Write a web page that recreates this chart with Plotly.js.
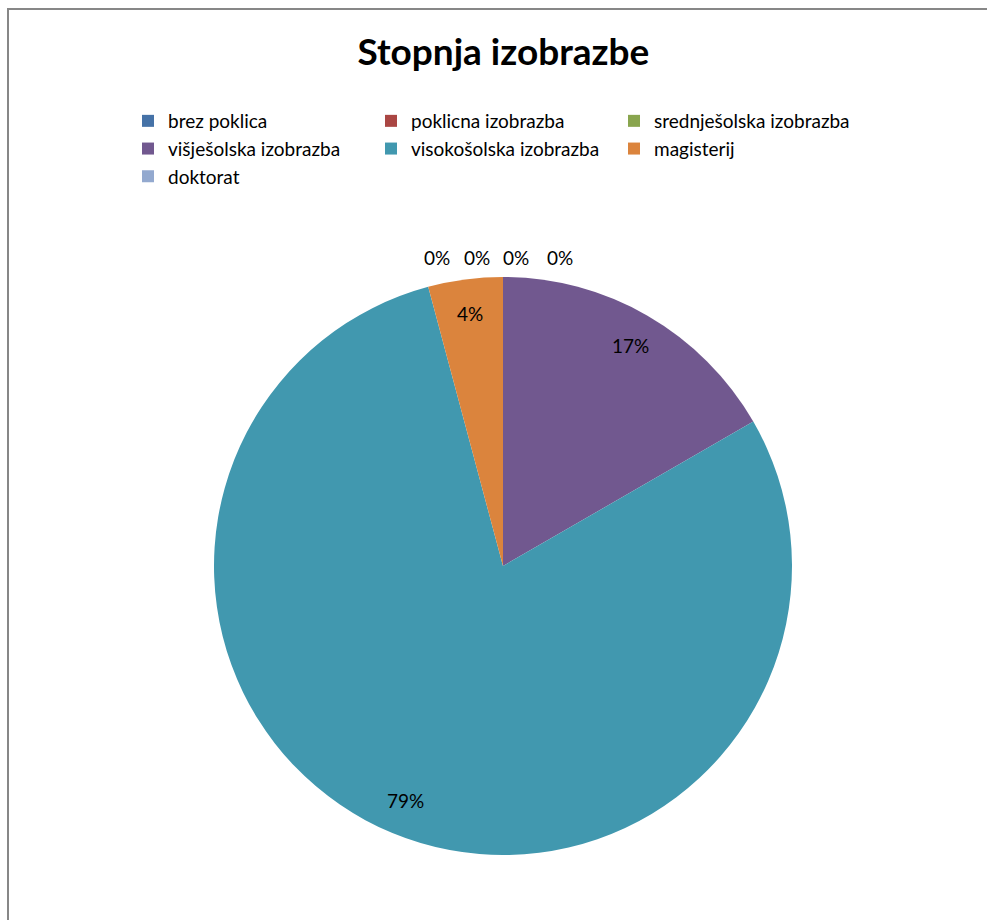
<!DOCTYPE html>
<html><head><meta charset="utf-8">
<script src="https://cdn.plot.ly/plotly-3.0.1.min.js"></script>
<style>
html,body{margin:0;padding:0;background:#fff;overflow:hidden;}
#chart{position:absolute;left:0;top:0;width:987px;height:920px;}
#frame{position:absolute;left:7px;top:8px;width:2000px;height:2000px;border-left:2px solid #878787;border-top:2px solid #878787;pointer-events:none;}
</style>
</head><body>
<div id="chart"></div><div id="frame"></div>
<script>
const chartTitle = 'Stopnja izobrazbe';
const categories = ['brez poklica', 'poklicna izobrazba', 'srednješolska izobrazba', 'višješolska izobrazba', 'visokošolska izobrazba', 'magisterij', 'doktorat'];
const counts = [0, 0, 0, 4, 19, 1, 0];
const sliceColors = ['#4572A7', '#AA4643', '#89A54E', '#71588F', '#4198AF', '#DB843D', '#93A9CF'];

const W = 987, H = 920;
const ML = 0, MR = 100, MT = 0, MB = 0;
const PW = W - ML - MR, PH = H - MT - MB;
const FONT = 'Lato, "Open Sans", sans-serif';
const toPX = px => (px - ML) / PW;
const toPY = py => 1 - (py - MT) / PH;
// pie geometry (pixels)
const cxPx = 503, cyPx = 566, rPx = 289;
const domX = [toPX(cxPx - rPx), toPX(cxPx + rPx)];
const domY = [toPY(cyPx + rPx), toPY(cyPx - rPx)];

const total = counts.reduce((a, b) => a + b, 0);
const annotations = [];
let cum = 0;
const firstNZ = counts.findIndex(v => v > 0);
let rightK = 0;
counts.forEach((v, i) => {
  const pct = Math.round(v / total * 100) + '%';
  let px, py;
  if (v > 0) {
    const mid = (cum + v / 2) / total * 2 * Math.PI;
    const rr = rPx * 0.88;
    px = cxPx + rr * Math.sin(mid);
    py = cyPx - rr * Math.cos(mid);
  } else {
    py = cyPx - rPx - 20;
    if (i < firstNZ) {
      px = cxPx + 13 - 39.5 * (firstNZ - 1 - i);
    } else {
      px = cxPx + 57 + 39.5 * rightK; rightK++;
    }
  }
  cum += v;
  annotations.push({
    text: pct, xref: 'paper', yref: 'paper', x: toPX(px), y: toPY(py),
    xanchor: 'center', yanchor: 'middle', showarrow: false,
    font: {family: FONT, size: 19, color: '#000000'}
  });
});

const trace = {
  type: 'pie',
  labels: categories,
  values: counts,
  sort: false,
  direction: 'clockwise',
  rotation: 0,
  textinfo: 'none',
  hoverinfo: 'label+percent',
  marker: {colors: sliceColors, line: {width: 0}},
  domain: {x: domX, y: domY},
  showlegend: true
};

const layout = {
  width: W, height: H,
  margin: {l: ML, r: MR, t: MT, b: MB, autoexpand: false},
  paper_bgcolor: '#ffffff',
  plot_bgcolor: '#ffffff',
  title: {
    text: '<b>' + chartTitle + '</b>',
    x: 0.51, xanchor: 'center', xref: 'container',
    y: 1 - 52 / H, yanchor: 'middle', yref: 'container',
    font: {family: FONT, size: 37, color: '#000000'}
  },
  legend: {
    orientation: 'h',
    x: toPX(128), xanchor: 'left',
    y: toPY(102), yanchor: 'top',
    entrywidth: 198, entrywidthmode: 'pixels',
    font: {family: FONT, size: 19, color: '#000000'},
    traceorder: 'normal'
  },
  annotations: annotations
};

Plotly.newPlot('chart', [trace], layout, {displayModeBar: false, staticPlot: true});
</script>
</body></html>
